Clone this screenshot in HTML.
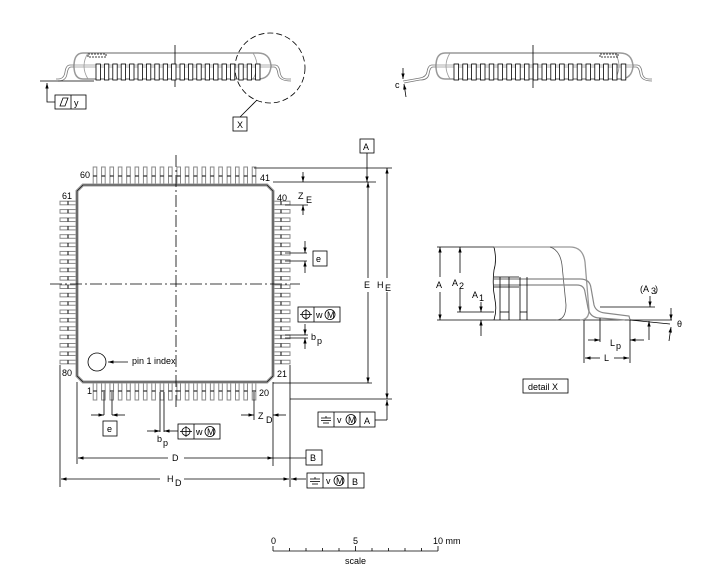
<!DOCTYPE html>
<html><head><meta charset="utf-8"><style>
html,body{margin:0;padding:0;background:#fff}
svg{display:block}
text{font-family:"Liberation Sans",sans-serif;font-size:9px;fill:#000}
</style></head><body>
<svg id="s" width="704" height="576" viewBox="0 0 704 576" xmlns="http://www.w3.org/2000/svg">
<defs>
<marker id="ar" viewBox="0 0 10 10" refX="10" refY="5" markerWidth="7" markerHeight="7" orient="auto-start-reverse"><path d="M0,2 L10,5 L0,8 z" fill="#000"/></marker>
</defs>
<g id="pins" fill="#fff" stroke="#888" stroke-width="1"></g>
<g fill="none" stroke="#000" stroke-width="0.8">
<!-- main body -->
<path d="M83,185 L267,185 L273,191 L273,376 L267,382 L83,382 L77,376 L77,191 Z" stroke="#999" stroke-width="3"/>
<path d="M83,185 L267,185 L273,191 L273,376 L267,382 L83,382 L77,376 L77,191 Z" stroke="#000" stroke-width="0.6"/>
<!-- center lines -->
<line x1="176" y1="155" x2="176" y2="410" stroke-dasharray="12,3,2,3"/>
<line x1="50" y1="284" x2="300" y2="284" stroke-dasharray="12,3,2,3"/>
<circle cx="97" cy="362" r="9"/>
<line x1="128" y1="362" x2="108" y2="362" marker-end="url(#ar)"/>

<!-- right dims -->
<rect x="360" y="139" width="14" height="14"/>
<line x1="367" y1="153" x2="367" y2="182" marker-end="url(#ar)"/>
<line x1="254" y1="168" x2="392" y2="168"/>
<line x1="273" y1="182" x2="376" y2="182"/>
<line x1="303" y1="172" x2="303" y2="182" marker-end="url(#ar)"/>
<line x1="303" y1="215" x2="303" y2="205" marker-end="url(#ar)"/>
<line x1="285" y1="205" x2="308" y2="205"/>
<line x1="285" y1="253" x2="307" y2="253"/>
<line x1="285" y1="261" x2="307" y2="261"/>
<line x1="305" y1="241" x2="305" y2="253" marker-end="url(#ar)"/>
<line x1="305" y1="273" x2="305" y2="261" marker-end="url(#ar)"/>
<rect x="313" y="251" width="14" height="15"/>
<rect x="298" y="307" width="42" height="15"/><line x1="314" y1="307" x2="314" y2="322"/>
<circle cx="306" cy="314.5" r="4"/><line x1="306" y1="309" x2="306" y2="320"/><line x1="300" y1="314.5" x2="312" y2="314.5"/>
<circle cx="330" cy="314.5" r="5"/>
<line x1="285" y1="335" x2="308" y2="335"/>
<line x1="285" y1="338" x2="308" y2="338"/>
<line x1="305" y1="324" x2="305" y2="335" marker-end="url(#ar)"/>
<line x1="305" y1="349" x2="305" y2="338" marker-end="url(#ar)"/>
<line x1="368" y1="190" x2="368" y2="182" marker-end="url(#ar)"/>
<line x1="368" y1="278" x2="368" y2="190"/>
<line x1="368" y1="292" x2="368" y2="383" marker-end="url(#ar)"/>
<line x1="273" y1="383" x2="372" y2="383"/>
<line x1="387" y1="278" x2="387" y2="168" marker-end="url(#ar)"/>
<line x1="387" y1="292" x2="387" y2="399" marker-end="url(#ar)"/>
<line x1="290" y1="399" x2="392" y2="399"/>
<line x1="387" y1="420" x2="387" y2="400" marker-end="url(#ar)"/>
<polyline points="375,420 387,420"/>
<rect x="318" y="412" width="57" height="15"/><line x1="334" y1="412" x2="334" y2="427"/><line x1="360" y1="412" x2="360" y2="427"/>
<line x1="321" y1="418" x2="331" y2="418"/><line x1="321" y1="420.5" x2="331" y2="420.5"/><line x1="323" y1="423" x2="329" y2="423"/><line x1="326" y1="416" x2="326" y2="418"/>
<circle cx="351" cy="419.5" r="5"/>

<!-- bottom dims -->
<line x1="77" y1="382" x2="77" y2="464"/>
<line x1="273" y1="382" x2="273" y2="466"/>
<line x1="290" y1="365" x2="290" y2="487"/>
<line x1="60" y1="365" x2="60" y2="487"/>
<line x1="104" y1="392" x2="104" y2="415"/>
<line x1="112" y1="392" x2="112" y2="415"/>
<line x1="91" y1="415" x2="104" y2="415" marker-end="url(#ar)"/>
<line x1="125" y1="415" x2="112" y2="415" marker-end="url(#ar)"/>
<rect x="103" y="421" width="14" height="15"/>
<line x1="160" y1="392" x2="160" y2="432"/>
<line x1="164" y1="392" x2="164" y2="432"/>
<line x1="147" y1="431" x2="160" y2="431" marker-end="url(#ar)"/>
<line x1="178" y1="431" x2="164" y2="431" marker-end="url(#ar)"/>
<rect x="178" y="424" width="42" height="15"/><line x1="194" y1="424" x2="194" y2="439"/>
<circle cx="186" cy="431.5" r="4"/><line x1="186" y1="426" x2="186" y2="437"/><line x1="180" y1="431.5" x2="192" y2="431.5"/>
<circle cx="210" cy="431.5" r="5"/>
<line x1="254" y1="392" x2="254" y2="420"/>
<line x1="241" y1="415" x2="254" y2="415" marker-end="url(#ar)"/>
<line x1="286" y1="415" x2="273" y2="415" marker-end="url(#ar)"/>
<line x1="168" y1="458" x2="78" y2="458" marker-end="url(#ar)"/>
<line x1="184" y1="458" x2="273" y2="458" marker-end="url(#ar)"/>
<line x1="273" y1="458" x2="306" y2="458"/>
<rect x="306" y="450" width="16" height="15"/>
<line x1="160" y1="479" x2="61" y2="479" marker-end="url(#ar)"/>
<line x1="184" y1="479" x2="289" y2="479" marker-end="url(#ar)"/>
<line x1="306" y1="479" x2="291" y2="479" marker-end="url(#ar)"/>
<rect x="307" y="473" width="57" height="15"/><line x1="323" y1="473" x2="323" y2="488"/><line x1="348" y1="473" x2="348" y2="488"/>
<line x1="310" y1="479" x2="320" y2="479"/><line x1="310" y1="481.5" x2="320" y2="481.5"/><line x1="312" y1="484" x2="318" y2="484"/><line x1="315" y1="477" x2="315" y2="479"/>
<circle cx="339" cy="480.5" r="5"/>

<!-- scale -->
<line x1="273" y1="551" x2="438" y2="551"/>
<g id="ticks"></g>

<!-- left side view -->
<path d="M83,53 L258,53 Q270,53 271,66 Q270,79 258,79 L83,79 Q74,79 74,66 Q74,53 83,53 Z" stroke="#999" stroke-width="1.5"/>
<path d="M88,53 Q80,66 88,79 M253,53 Q261,66 253,79" stroke="#999"/>
<line x1="74" y1="65" x2="271" y2="65" stroke="#999"/>
<line x1="74" y1="67" x2="271" y2="67" stroke="#999"/>
<path d="M74,65 L70,65 Q66,65 65,72 Q64,79 58,79 L56,79 M74,67 L71,67 Q68,67 67,74 Q66,81 58,81 M271,65 L275,65 Q279,65 280,72 Q281,79 287,79 L291,79 M271,67 L274,67 Q277,67 278,74 Q279,81 291,81" stroke="#777"/>
<rect x="88" y="54" width="18" height="3" stroke-dasharray="2,1"/>
<line x1="175" y1="45" x2="175" y2="87"/>
<line x1="40" y1="81" x2="94" y2="81"/>
<polyline points="55,102 47,102 47,83" marker-end="url(#ar)"/>
<rect x="55" y="95" width="31" height="14"/><line x1="71" y1="95" x2="71" y2="109"/>
<path d="M60,106 L63,98 L68,98 L65,106 Z"/>
<circle cx="270" cy="68" r="35" stroke-dasharray="6,3"/>
<line x1="240" y1="117" x2="257" y2="100"/>
<rect x="233" y="117" width="14" height="14"/>
<g id="sp1" stroke="#000"></g>

<!-- right side view -->
<path d="M445,53 L620,53 Q632,53 633,66 Q632,79 620,79 L445,79 Q436,79 436,66 Q436,53 445,53 Z" stroke="#999" stroke-width="1.5"/>
<path d="M450,53 Q442,66 450,79 M615,53 Q623,66 615,79" stroke="#999"/>
<line x1="436" y1="65" x2="633" y2="65" stroke="#999"/>
<line x1="436" y1="67" x2="633" y2="67" stroke="#999"/>
<path d="M436,65 L432,65 Q428,65 427,72 Q426,77 420,78 L403,81 M436,67 L433,67 Q430,67 429,74 Q428,80 420,80 L404,83 M633,65 L637,65 Q641,65 642,72 Q643,79 649,79 L652,79 M633,67 L636,67 Q639,67 640,74 Q641,81 652,81" stroke="#777"/>
<rect x="600" y="54" width="18" height="3" stroke-dasharray="2,1"/>
<line x1="533" y1="45" x2="533" y2="88"/>
<line x1="403" y1="68" x2="403" y2="79" marker-end="url(#ar)"/>
<line x1="406" y1="97" x2="404" y2="84" marker-end="url(#ar)"/>
<g id="sp2" stroke="#000"></g>

<!-- detail X -->
<line x1="437" y1="247" x2="494" y2="247"/>
<line x1="437" y1="320" x2="630" y2="320"/>
<line x1="457" y1="312" x2="494" y2="312"/>
<path d="M494,247 Q497,260 494,270 Q492,285 495,300 Q497,310 494,320" />
<path d="M494,247 L570,247 Q583,247 585,262 L589,310 Q589,320 580,320" stroke="#999" stroke-width="1.3"/>
<path d="M550,247 Q560,250 562,265 L566,305 Q566,320 556,320" stroke="#555"/>
<path d="M494,279 L580,279 Q590,279 591,288 L594,305 Q596,312 605,313 L629,316 L630,320 M494,285 L577,285 Q584,285 585,292 L588,308 Q590,318 600,318 L625,320" stroke="#888" stroke-width="1.2"/>
<line x1="494" y1="277" x2="519" y2="277"/>
<line x1="494" y1="287" x2="519" y2="287"/>
<line x1="500" y1="277" x2="500" y2="320"/>
<line x1="509" y1="277" x2="509" y2="320"/>
<line x1="520" y1="277" x2="520" y2="320"/>
<line x1="527" y1="277" x2="527" y2="320"/>
<line x1="500" y1="312" x2="509" y2="312"/>
<line x1="520" y1="312" x2="527" y2="312"/>
<line x1="440" y1="277" x2="440" y2="247" marker-end="url(#ar)"/>
<line x1="440" y1="292" x2="440" y2="320" marker-end="url(#ar)"/>
<line x1="460" y1="273" x2="460" y2="247" marker-end="url(#ar)"/>
<line x1="460" y1="288" x2="460" y2="312" marker-end="url(#ar)"/>
<line x1="481" y1="302" x2="481" y2="312" marker-end="url(#ar)"/>
<line x1="481" y1="336" x2="481" y2="320" marker-end="url(#ar)"/>
<line x1="600" y1="307" x2="655" y2="307"/>
<line x1="650" y1="296" x2="650" y2="307" marker-end="url(#ar)"/>
<line x1="630" y1="320" x2="670" y2="324"/>
<line x1="630" y1="320" x2="672" y2="320"/>
<line x1="671" y1="308" x2="671" y2="320" marker-end="url(#ar)"/>
<line x1="649" y1="340" x2="649" y2="321" marker-end="url(#ar)"/>
<line x1="669" y1="341" x2="671" y2="327" marker-end="url(#ar)"/>
<line x1="584" y1="320" x2="584" y2="363"/>
<line x1="600" y1="318" x2="600" y2="342"/>
<line x1="630" y1="320" x2="630" y2="363"/>
<line x1="588" y1="340" x2="600" y2="340" marker-end="url(#ar)"/>
<line x1="644" y1="340" x2="630" y2="340" marker-end="url(#ar)"/>
<line x1="600" y1="358" x2="585" y2="358" marker-end="url(#ar)"/>
<line x1="614" y1="358" x2="629" y2="358" marker-end="url(#ar)"/>
<rect x="523" y="379" width="45" height="14"/>
</g>

<g>
<text x="80" y="178">60</text><text x="260" y="181">41</text>
<text x="62" y="199">61</text><text x="277" y="201">40</text>
<text x="62" y="376">80</text><text x="277" y="377">21</text>
<text x="87" y="394">1</text><text x="259" y="396">20</text>
<text x="132" y="364">pin 1  index</text>
<text x="363" y="150">A</text>
<text x="298" y="199">Z</text><text x="306" y="203">E</text>
<text x="316" y="262">e</text>
<text x="316" y="318" font-size="8">w</text><text x="327" y="318" font-size="7">M</text>
<text x="311" y="340">b</text><text x="317" y="344" font-size="8">p</text>
<text x="364" y="288">E</text>
<text x="377" y="288">H</text><text x="385" y="291">E</text>
<text x="337" y="423" font-size="8">v</text><text x="348" y="423" font-size="7">M</text><text x="364" y="424">A</text>
<text x="107" y="432">e</text>
<text x="157" y="442">b</text><text x="163" y="446" font-size="8">p</text>
<text x="196" y="435" font-size="8">w</text><text x="207" y="435" font-size="7">M</text>
<text x="258" y="419">Z</text><text x="266" y="423">D</text>
<text x="172" y="461">D</text>
<text x="310" y="461">B</text>
<text x="167" y="482">H</text><text x="175" y="486">D</text>
<text x="326" y="484" font-size="8">v</text><text x="336" y="484" font-size="7">M</text><text x="352" y="485">B</text>
<text x="271" y="544" font-size="8">0</text><text x="353" y="544" font-size="8">5</text><text x="433" y="544" font-size="8">10 mm</text>
<text x="345" y="564" font-size="8">scale</text>
<text x="74" y="106">y</text>
<text x="237" y="128">X</text>
<text x="395" y="88" font-size="8">c</text>
<text x="436" y="288">A</text>
<text x="452" y="286">A</text><text x="459" y="289" font-size="7">2</text>
<text x="472" y="298">A</text><text x="479" y="301" font-size="7">1</text>
<text x="640" y="292">(A</text><text x="651" y="294" font-size="7">3</text><text x="655" y="292">)</text>
<text x="677" y="327">θ</text>
<text x="610" y="346">L</text><text x="616" y="349" font-size="8">p</text>
<text x="604" y="361">L</text>
<text x="528" y="390">detail X</text>
</g>
</svg>
<script>
var NS="http://www.w3.org/2000/svg",p=document.getElementById('pins');
function el(g,t,a){var e=document.createElementNS(NS,t);for(var k in a)e.setAttribute(k,a[k]);g.appendChild(e);}
for(var i=0;i<20;i++){
 var x=95+i*8.37;
 el(p,'rect',{x:x-1.8,y:167,width:3.6,height:17});el(p,'line',{x1:x-1.8,y1:176,x2:x+1.8,y2:176,stroke:'#000'});
 el(p,'rect',{x:x-1.8,y:383,width:3.6,height:17});el(p,'line',{x1:x-1.8,y1:391,x2:x+1.8,y2:391,stroke:'#000'});
 var y=203+i*8.37;
 el(p,'rect',{x:60,y:y-1.8,width:17,height:3.6});el(p,'line',{x1:68,y1:y-1.8,x2:68,y2:y+1.8,stroke:'#000'});
 el(p,'rect',{x:273,y:y-1.8,width:17,height:3.6});el(p,'line',{x1:281,y1:y-1.8,x2:281,y2:y+1.8,stroke:'#000'});
}
var s1=document.getElementById('sp1'),s2=document.getElementById('sp2');
for(var i=0;i<20;i++){
 var x=96+i*8.4;el(s1,'rect',{x:x,y:64,width:4.4,height:16,fill:'#fff','stroke-width':0.8});
 var x2=454+i*8.8;el(s2,'rect',{x:x2,y:64,width:4.6,height:16,fill:'#fff','stroke-width':0.8});
}
var t=document.getElementById('ticks');
for(var i=0;i<=10;i++){var x=273+i*16.5;el(t,'line',{x1:x,y1:(i%5==0?546:548),x2:x,y2:551});}
</script>
</body></html>
